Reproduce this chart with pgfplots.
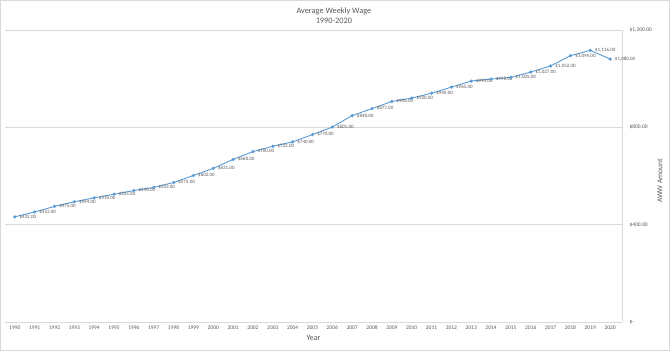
\documentclass[border=0pt]{standalone}
\usepackage{pgfplots}
\pgfplotsset{compat=1.18}
\usepackage{fontspec}
\setmainfont{Carlito}
\definecolor{aww}{HTML}{5B9BD5}
\definecolor{gridc}{HTML}{D9D9D9}
\definecolor{axc}{HTML}{D6DCE5}
\definecolor{txt}{HTML}{595959}
\begin{document}
\begin{tikzpicture}[x=1pt,y=1pt]
\draw[gridc, line width=0.8pt] (0.5,0.5) rectangle (669.5,350.5);
\begin{axis}[
  at={(5pt,29pt)}, anchor=south west,
  scale only axis, width=617pt, height=292pt,
  xmin=1989.5, xmax=2020.6, ymin=0, ymax=1200,
  axis x line*=bottom, axis y line*=right,
  x axis line style={gridc, line width=0.8pt},
  y axis line style={axc, line width=0.8pt},
  clip=false,
  /pgf/number format/assume math mode=true,
  major tick length=0pt,
  xtick={1990,...,2020},
  xticklabel style={font=\fontsize{5.5}{6}\selectfont, text=txt, /pgf/number format/1000 sep={}},
  ytick={0,400,800,1200},
  yticklabels={{\textdollar-},{\textdollar400.00},{\textdollar800.00},{\textdollar1,200.00}},
  yticklabel style={font=\fontsize{5.5}{6}\selectfont, text=txt, anchor=west, xshift=4pt},
  ymajorgrids, major grid style={gridc, line width=0.6pt},
  xlabel={Year},
  every axis x label/.style={at={(axis description cs:0.5,-0.056)}, anchor=center, font=\fontsize{8}{9}\selectfont, text=txt},
  ylabel={AWW Amount},
  every axis y label/.style={at={(axis description cs:1.0616,0.483)}, anchor=center, rotate=90, font=\fontsize{7.5}{9}\selectfont, text=txt},
  title={Average Weekly Wage\\1990-2020},
  every axis title/.style={at={(axis description cs:0.533,1.050)}, anchor=center, align=center, font=\fontsize{8.3}{10}\selectfont, text=txt},
  nodes near coords={\textdollar\pgfmathprintnumber[fixed,fixed zerofill,precision=2,1000 sep={,}]{\pgfplotspointmeta}},
  every node near coord/.append style={anchor=west, font=\fontsize{5}{6}\selectfont, text=txt, xshift=1pt},
]
\addplot[color=aww, line width=0.9pt, mark=*, mark size=1.1pt, mark options={fill=aww, draw=aww}, point meta=y] table {
x y
1990 432
1991 452
1992 475
1993 494
1994 510
1995 525
1996 540
1997 553
1998 573
1999 602
2000 631
2001 668
2002 700
2003 722
2004 740
2005 770
2006 801
2007 848
2008 877
2009 906
2010 920
2011 940
2012 965
2013 990
2014 998
2015 1005
2016 1027
2017 1052
2018 1094
2019 1116
2020 1080
};
\end{axis}
\end{tikzpicture}
\end{document}
